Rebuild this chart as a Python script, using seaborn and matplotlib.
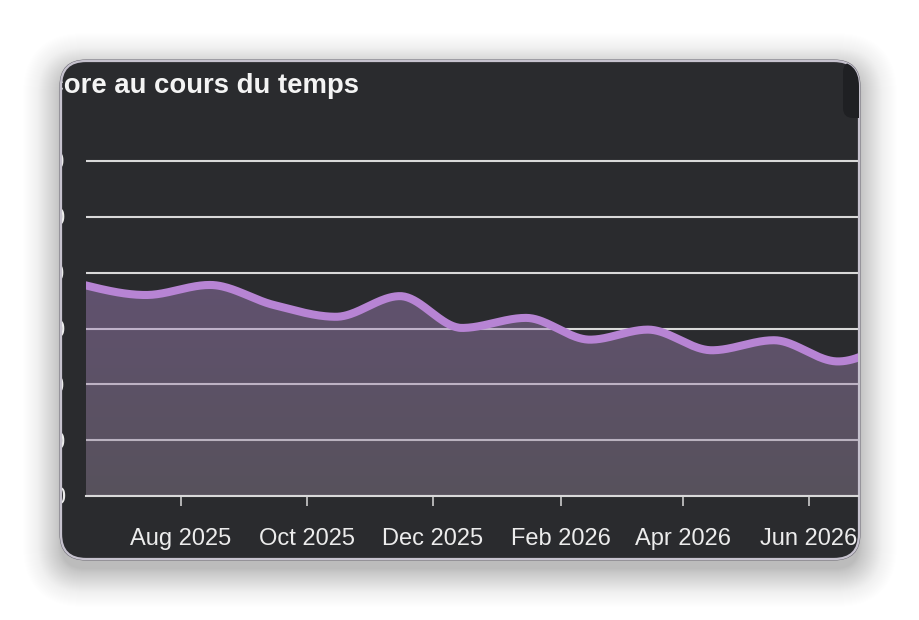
import numpy as np
import pandas as pd
import matplotlib
matplotlib.use("Agg")
import matplotlib.pyplot as plt
import matplotlib.dates as mdates
from matplotlib.patches import FancyBboxPatch
from matplotlib.transforms import IdentityTransform, Bbox, TransformedBbox
import seaborn as sns

# ---------------- data ----------------
title = "Score au cours du temps"
dates = ["2025-06-15", "2025-07-15", "2025-08-15", "2025-09-15", "2025-10-15",
         "2025-11-15", "2025-12-15", "2026-01-15", "2026-02-15", "2026-03-15",
         "2026-04-15", "2026-05-15", "2026-06-15", "2026-07-15"]
scores = [37.8, 36.0, 37.8, 34.2, 32.1, 35.8, 30.1, 31.9, 28.0, 29.8,
          26.1, 27.9, 24.1, 29.0]
y_ticks = [0, 10, 20, 30, 40, 50, 60]

# ---------------- style ----------------
sns.set_theme(style="dark")
plt.rcParams["font.family"] = ["Liberation Sans", "DejaVu Sans"]

W, H = 920, 620
fig = plt.figure(figsize=(W / 100, H / 100), dpi=100)
fig.patch.set_facecolor("white")

CARD_BG = "#2a2b2e"
LINE_C = "#b784d4"
GRID_C = "#d9d9d9"
TEXT_C = "#ececec"

# soft card shadow
n_sh = 42
for i in range(n_sh):
    pad = i * 1.0
    a = 0.0105 * (1 - i / n_sh) ** 0.7
    sh = FancyBboxPatch((61 - pad, 61 - 10 - pad), 798 + 2 * pad, 498 + 2 * pad,
                        boxstyle=f"round,pad=0,rounding_size={24 + pad}",
                        fc="black", ec="none", alpha=a,
                        transform=IdentityTransform(), zorder=-20)
    fig.add_artist(sh)

outer = FancyBboxPatch((60, 60), 800, 500, boxstyle="round,pad=0,rounding_size=26",
                       fc="none", ec="#6a6872", lw=0.8,
                       transform=IdentityTransform(), zorder=-6)
fig.add_artist(outer)
card = FancyBboxPatch((61, 61), 798, 498, boxstyle="round,pad=0,rounding_size=25",
                      fc=CARD_BG, ec="#c6c2ce", lw=1.6,
                      transform=IdentityTransform(), zorder=-5)
fig.add_artist(card)
card_box = TransformedBbox(Bbox([[62, 62], [858, 558]]), IdentityTransform())

# small dark element top-right
knob = FancyBboxPatch((843, 620 - 118), 40, 56, boxstyle="round,pad=0,rounding_size=10",
                      fc="#1f2023", ec="none", transform=IdentityTransform(), zorder=-4)
knob.set_clip_path(card)
fig.add_artist(knob)

# ---------------- axes ----------------
ax_left, ax_right, ax_bottom, ax_top = 86, 858, 496, 150
ax = fig.add_axes([ax_left / W, (H - ax_bottom) / H,
                   (ax_right - ax_left) / W, (ax_bottom - ax_top) / H])
ax.patch.set_visible(False)


def monotone_x(x, y, n=40):
    x = np.asarray(x, float)
    y = np.asarray(y, float)
    h = np.diff(x)
    s = np.diff(y) / h
    m = np.zeros_like(y)
    for i in range(1, len(y) - 1):
        s0, s1, h0, h1 = s[i - 1], s[i], h[i - 1], h[i]
        p = (s0 * h1 + s1 * h0) / (h0 + h1)
        m[i] = (np.sign(s0) + np.sign(s1)) * min(abs(s0), abs(s1), 0.5 * abs(p))
    m[0] = (3 * s[0] - m[1]) / 2
    m[-1] = (3 * s[-1] - m[-2]) / 2
    xs, ys = [], []
    for i in range(len(h)):
        t = np.linspace(0, 1, n, endpoint=(i == len(h) - 1))
        h00 = 2 * t**3 - 3 * t**2 + 1
        h10 = t**3 - 2 * t**2 + t
        h01 = -2 * t**3 + 3 * t**2
        h11 = t**3 - t**2
        ys.append(h00 * y[i] + h10 * h[i] * m[i] + h01 * y[i + 1] + h11 * h[i] * m[i + 1])
        xs.append(x[i] + t * h[i])
    return np.concatenate(xs), np.concatenate(ys)


xnum = mdates.date2num(pd.to_datetime(dates).to_pydatetime())
xs, ys = monotone_x(xnum, scores)
dts = pd.to_datetime(xs, unit="D")
df = pd.DataFrame({"date": dts, "score": ys})

# area (gradient fill clipped to the area under the curve)
poly = ax.fill_between(df["date"], df["score"], 0, facecolor="none", edgecolor="none")
clip_path = poly.get_paths()[0]

ppd = (809 - 181) / 304.0
x_lo = mdates.date2num(pd.Timestamp("2025-08-01")) - (181 - ax_left) / ppd
x_hi = mdates.date2num(pd.Timestamp("2026-06-01")) + (ax_right - 809) / ppd
y_hi = 60 * (ax_bottom - ax_top) / (ax_bottom - 161)

top_rgb = np.array([166, 130, 193]) / 255
bot_rgb = np.array([144, 130, 150]) / 255
frac = np.linspace(0, 1, 256)[:, None]
grad = np.zeros((256, 1, 4))
grad[:, 0, :3] = top_rgb * (1 - frac) + bot_rgb * frac
grad[:, 0, 3] = 0.45
im = ax.imshow(grad, extent=[x_lo, x_hi, 0, max(scores) + 1], aspect="auto",
               origin="upper", zorder=1, interpolation="bilinear")
im.set_clip_path(clip_path, ax.transData)

sns.lineplot(data=df, x="date", y="score", ax=ax, color=LINE_C, linewidth=5.8,
             estimator=None, sort=False, zorder=3)
ax.lines[-1].set_solid_capstyle("round")

ax.set_xlim(pd.to_datetime(x_lo, unit="D"), pd.to_datetime(x_hi, unit="D"))
ax.set_ylim(0, y_hi)
ax.set_xlabel("")
ax.set_ylabel("")

ax.set_yticks(y_ticks)
ax.set_yticklabels([str(v) for v in y_ticks])
ax.yaxis.grid(True, color=GRID_C, linewidth=1.5)
ax.xaxis.grid(False)
ax.set_axisbelow(True)

ax.xaxis.set_major_locator(mdates.MonthLocator(bymonth=(2, 4, 6, 8, 10, 12), bymonthday=1))
ax.xaxis.set_major_formatter(mdates.DateFormatter("%b %Y"))

for side in ["left", "right", "top"]:
    ax.spines[side].set_visible(False)
ax.spines["bottom"].set_color(GRID_C)
ax.spines["bottom"].set_linewidth(1.5)
ax.spines["bottom"].set_zorder(4)

ax.tick_params(axis="x", length=7.2, width=1.1, color=GRID_C, pad=15.5,
               labelsize=17, labelcolor=TEXT_C, bottom=True)
ax.tick_params(axis="y", length=0, pad=15, labelsize=17, labelcolor=TEXT_C, left=True)

ttl = fig.text(30 / W, 1 - 93 / H, title, fontsize=19.8, fontweight="bold",
               color="#f4f4f4", ha="left", va="baseline")
ttl.set_clip_on(True)
ttl.set_clip_box(card_box)

fig.canvas.draw()
for lbl in ax.get_yticklabels() + ax.get_xticklabels():
    lbl.set_clip_on(True)
    lbl.set_clip_box(card_box)

fig.savefig("out.png", dpi=100, facecolor="white")
